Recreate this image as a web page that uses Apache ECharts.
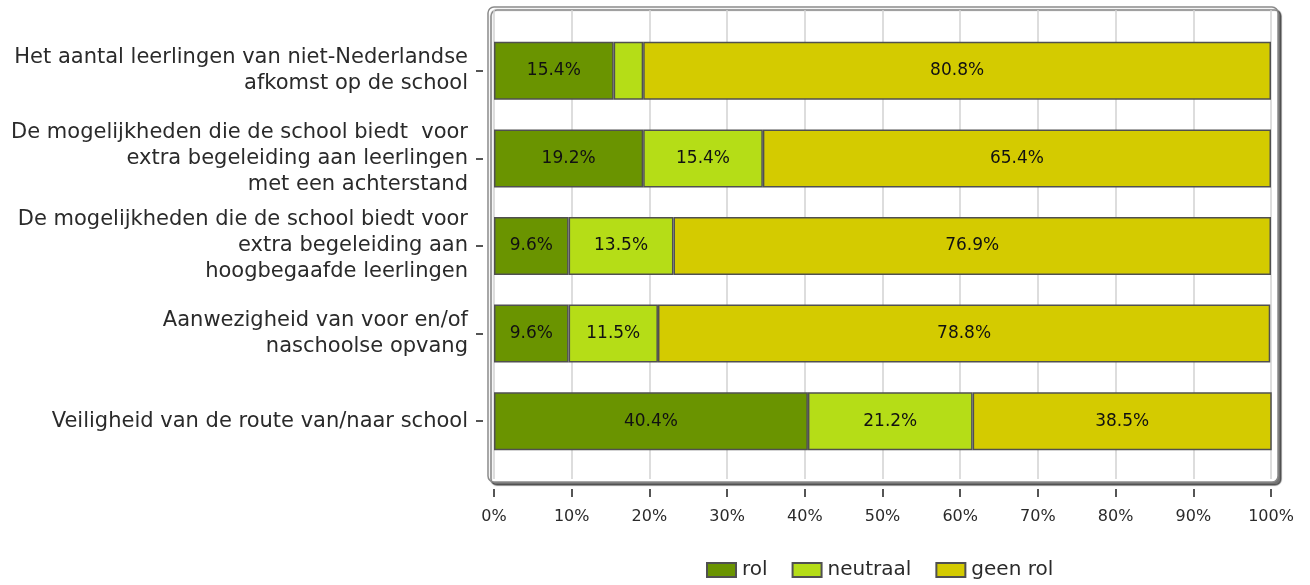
<!DOCTYPE html>
<html>
<head>
<meta charset="utf-8">
<script src="https://cdn.jsdelivr.net/npm/echarts@6/dist/echarts.min.js"></script>
<style>
  html, body { margin: 0; padding: 0; background: #fff; }
  #chart { width: 1310px; height: 585px; }
</style>
</head>
<body>
<div id="chart"></div>
<script>
// Categories, top to bottom
const categories = [
  'Het aantal leerlingen van niet-Nederlandse\nafkomst op de school',
  'De mogelijkheden die de school biedt  voor\nextra begeleiding aan leerlingen\nmet een achterstand',
  'De mogelijkheden die de school biedt voor\nextra begeleiding aan\nhoogbegaafde leerlingen',
  'Aanwezigheid van voor en/of\nnaschoolse opvang',
  'Veiligheid van de route van/naar school'
];

// Shares per answer (percent)
const rol = [15.4, 19.2, 9.6, 9.6, 40.4];
const neutraal = [3.8, 15.4, 13.5, 11.5, 21.2];
const geenRol = [80.8, 65.4, 76.9, 78.8, 38.5];

const seriesNames = ['rol', 'neutraal', 'geen rol'];
const seriesColors = ['#6a9400', '#b5dd17', '#d4cb00'];
const seriesData = [rol, neutraal, geenRol];

const FONT = 'DejaVu Sans';
const TEXT = '#2a2a2a';
const TICK = { color: '#555', width: 2 };

const chart = echarts.init(document.getElementById('chart'), null, { renderer: 'canvas' });

const series = seriesData.map((data, i) => ({
  name: seriesNames[i],
  type: 'bar',
  stack: 'total',
  xAxisIndex: 0,
  yAxisIndex: 0,
  barWidth: 58,
  data: data,
  itemStyle: { color: seriesColors[i], borderColor: '#505050', borderWidth: 1.5 },
  label: {
    show: true,
    position: 'inside',
    color: '#111',
    fontFamily: FONT,
    fontSize: 17,
    formatter: p => (p.value >= 5 ? p.value.toFixed(1) + '%' : '')
  },
  emphasis: { disabled: true }
}));

chart.setOption({
  animation: false,
  textStyle: { fontFamily: FONT },
  graphic: [{
    type: 'rect',
    z: -10,
    silent: true,
    shape: { x: 488, y: 7, width: 790, height: 475, r: 6 },
    style: {
      fill: '#fff',
      stroke: '#8a8a8a',
      lineWidth: 1.5,
      shadowColor: 'rgba(0,0,0,0.55)',
      shadowOffsetX: 3,
      shadowOffsetY: 3,
      shadowBlur: 1
    }
  }],
  legend: {
    left: 701,
    top: 555,
    itemWidth: 29,
    itemHeight: 14,
    itemGap: 24,
    icon: 'rect',
    data: seriesNames,
    textStyle: { color: TEXT, fontSize: 20, fontFamily: FONT, padding: [0, 0, 0, 1] }
  },
  grid: [
    // bars
    { left: 494, right: 39, top: 27, bottom: 120 },
    // vertical grid lines inside the frame
    { left: 494, right: 39, top: 10, bottom: 106 },
    // percentage scale below the frame
    { left: 494, right: 39, top: 10, bottom: 96 },
    // category labels left of the frame
    { left: 483, right: 39, top: 27, bottom: 120 }
  ],
  xAxis: [
    { gridIndex: 0, type: 'value', min: 0, max: 100, show: false },
    {
      gridIndex: 1, type: 'value', min: 0, max: 100, interval: 10,
      axisLine: { show: false },
      axisTick: { show: false },
      axisLabel: { show: false },
      splitLine: { show: true, lineStyle: { color: '#d2d2d2', width: 1.5 } }
    },
    {
      gridIndex: 2, type: 'value', min: 0, max: 100, interval: 10,
      axisLine: { show: false },
      axisTick: { show: true, length: 8, lineStyle: TICK },
      axisLabel: {
        margin: 20,
        color: TEXT,
        fontSize: 16,
        fontFamily: FONT,
        formatter: '{value}%'
      },
      splitLine: { show: false }
    },
    { gridIndex: 3, type: 'value', min: 0, max: 100, show: false }
  ],
  yAxis: [
    { gridIndex: 0, type: 'category', inverse: true, data: categories, show: false },
    { gridIndex: 1, type: 'value', show: false },
    { gridIndex: 2, type: 'value', show: false },
    {
      gridIndex: 3,
      type: 'category',
      inverse: true,
      data: categories,
      axisLine: { show: false },
      axisTick: { show: true, alignWithLabel: true, length: 7, lineStyle: TICK },
      axisLabel: {
        margin: 15,
        color: TEXT,
        fontSize: 21,
        lineHeight: 26,
        fontFamily: FONT,
        align: 'right'
      },
      splitLine: { show: false }
    }
  ],
  series: series
});
</script>
</body>
</html>
